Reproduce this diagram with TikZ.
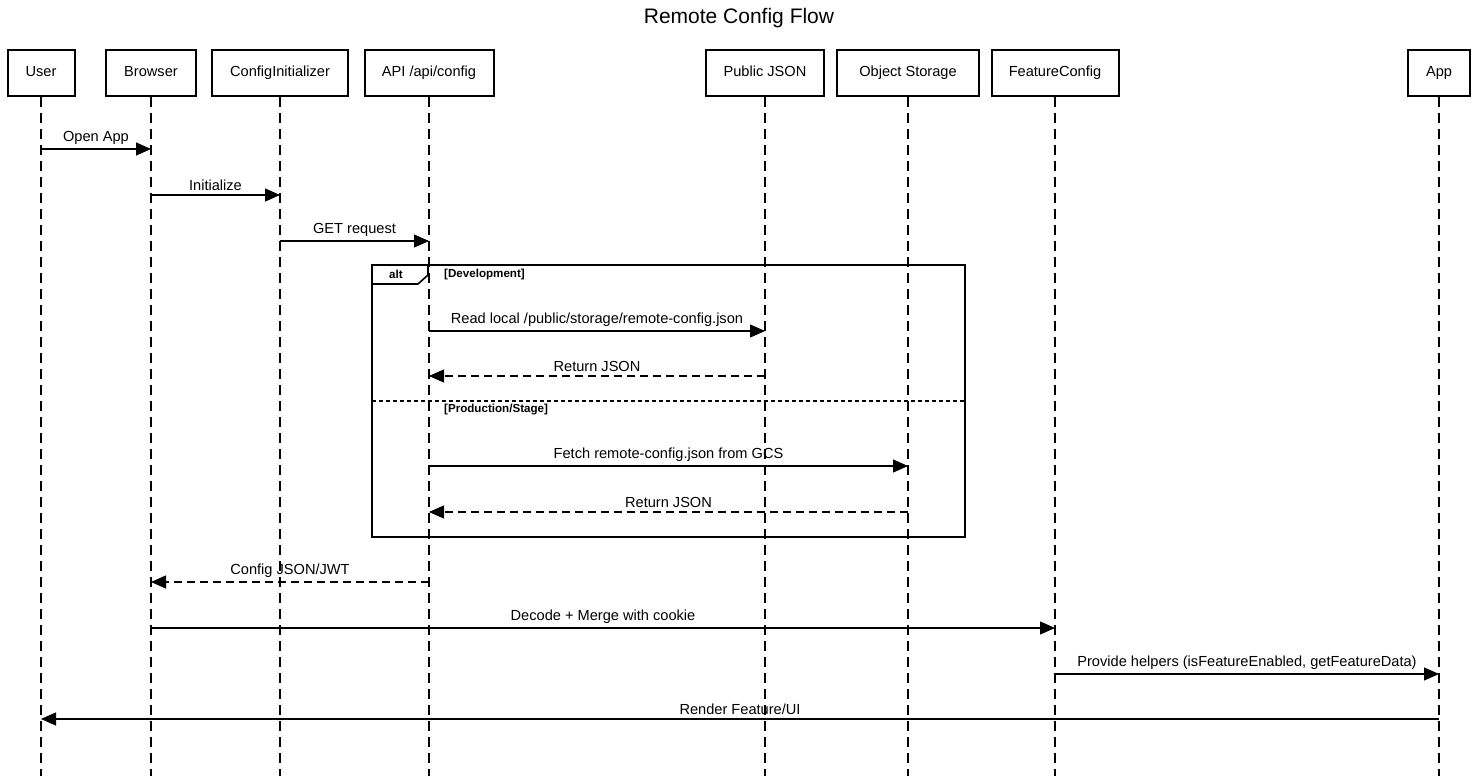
\documentclass[tikz,border=0pt]{standalone}
\usepackage{fontspec}
\setmainfont{Liberation Sans}
\usetikzlibrary{arrows.meta}
\begin{document}
\begin{tikzpicture}[x=1pt,y=-1pt,
  actor/.style={draw,line width=2pt,minimum height=46pt,inner xsep=0pt,text height=10.5pt,text depth=3pt,font=\fontsize{14.6}{17}\selectfont},
  lifeline/.style={line width=1.3pt,dash pattern=on 10pt off 6pt},
  msg/.style={line width=1.1pt,-{Triangle[length=15pt,width=13pt]}},
  reply/.style={msg,dash pattern=on 8pt off 5pt},
  mlabel/.style={font=\fontsize{14.6}{17}\selectfont,anchor=base,inner sep=0pt},
  guard/.style={font=\bfseries\fontsize{11.6}{13}\selectfont,anchor=west,inner sep=0pt}]
\useasboundingbox (0,0) rectangle (1478,776);
\node[font=\fontsize{21}{24}\selectfont] (title) at (739,18) {Remote Config Flow};
% participants
\node[actor,minimum width=67pt] (user) at (41,73) {User};
\node[actor,minimum width=90pt] (browser) at (151,73) {Browser};
\node[actor,minimum width=136pt] (init) at (280,73) {ConfigInitializer};
\node[actor,minimum width=129pt] (api) at (429,73) {API /api/config};
\node[actor,minimum width=118pt] (pub) at (765,73) {Public JSON};
\node[actor,minimum width=142pt] (store) at (908,73) {Object Storage};
\node[actor,minimum width=127pt] (feat) at (1055,73) {FeatureConfig};
\node[actor,minimum width=62pt] (app) at (1439,73) {App};
% lifelines
\foreach \p in {user,browser,init,api,pub,store,feat,app}{
  \coordinate (\p-end) at (\p.south |- 0,776);
  \draw[lifeline] (\p.south) -- (\p-end);
  \foreach \yy/\k in {149/a,195/b,241/c,331/d,376/e,466/f,512/g,582/h,628/i,674/j,719/k}
    \coordinate (\p-\k) at (\p.south |- 0,\yy);
}
% alt fragment
\draw[line width=2pt] (372,265) rectangle (965,537);
\draw[line width=1.6pt] (372,284) -- (418,284) -- (428,275) -- (428,265);
\node[font=\bfseries\fontsize{11.6}{13}\selectfont] (alt) at (396,274) {alt};
\node[guard] (g1) at (444,274) {[Development]};
\draw[line width=1.6pt,dash pattern=on 4pt off 3pt] (372,401) -- (965,401);
\node[guard] (g2) at (444,410) {[Production/Stage]};
% messages
\draw[msg] (user-a) -- node[mlabel,above=4pt]{Open App} (browser-a);
\draw[msg] (browser-b) -- node[mlabel,above=4pt]{Initialize} (init-b);
\draw[msg] (init-c) -- node[mlabel,above=4pt]{GET request} (api-c);
\draw[msg] (api-d) -- node[mlabel,above=4pt]{Read local /public/storage/remote-config.json} (pub-d);
\draw[reply] (pub-e) -- node[mlabel,above=4pt]{Return JSON} (api-e);
\draw[msg] (api-f) -- node[mlabel,above=4pt]{Fetch remote-config.json from GCS} (store-f);
\draw[reply] (store-g) -- node[mlabel,above=4pt]{Return JSON} (api-g);
\draw[reply] (api-h) -- node[mlabel,above=4pt]{Config JSON/JWT} (browser-h);
\draw[msg] (browser-i) -- node[mlabel,above=4pt]{Decode + Merge with cookie} (feat-i);
\draw[msg] (feat-j) -- node[mlabel,above=4pt]{Provide helpers (isFeatureEnabled, getFeatureData)} (app-j);
\draw[msg] (app-k) -- node[mlabel,above=4pt]{Render Feature/UI} (user-k);
\end{tikzpicture}
\end{document}
